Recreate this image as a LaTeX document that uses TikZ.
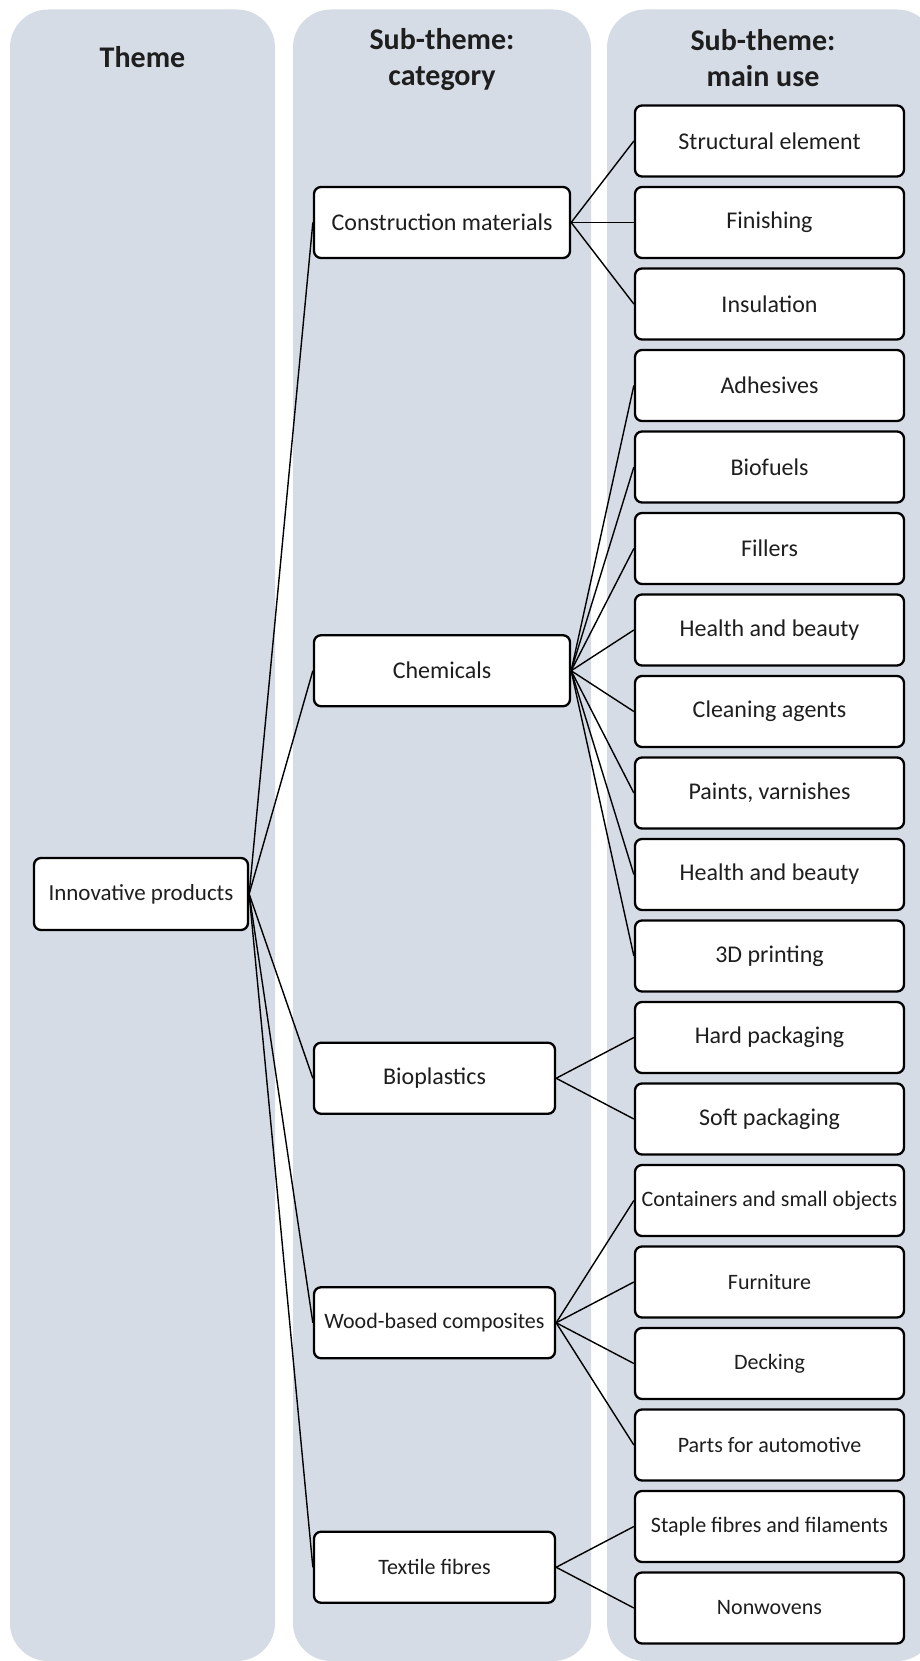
\documentclass[tikz,border=0pt]{standalone}
\usepackage{fontspec}
\setmainfont{Carlito}
\definecolor{panelc}{RGB}{214,220,229}
\definecolor{txt}{RGB}{30,30,30}
\begin{document}
\begin{tikzpicture}[x=1pt,y=-1pt,
  panelbox/.style={fill=panelc, draw=none, rounded corners=38pt},
  heading/.style={font=\bfseries\fontsize{30}{36}\selectfont, align=center, text=txt, inner sep=0pt},
  item/.style={draw=black, line width=2.3pt, fill=white, rounded corners=7pt,
    minimum height=71pt, inner sep=0pt, align=center, text=txt,
    font=\fontsize{24}{28}\selectfont},
  small/.style={font=\fontsize{22}{26}\selectfont},
  usebox/.style={item, minimum width=269pt},
  catwide/.style={item, minimum width=256pt},
  catnarrow/.style={item, minimum width=241pt},
  conn/.style={draw=black, line width=1.4pt}
]
\useasboundingbox (0,0) rectangle (920,1661);
\clip (0,0) rectangle (920,1661);
% panels
\path[panelbox] (10,9.5) rectangle (275,1661);
\path[panelbox] (293,9.5) rectangle (591,1661);
\path[panelbox] (607,9.5) rectangle (935,1661);
% headings
\node[heading] (h1) at (142.5,57) {Theme};
\node[heading] (h2) at (442,60) {Sub-theme:\\category};
\node[heading] (h3) at (763,58) {Sub-theme:\\main use};
% theme
\node[item, minimum width=214pt, minimum height=72pt, font=\fontsize{23}{27}\selectfont] (innov) at (141,894) {Innovative products};
% categories
\node[catwide] (constr) at (442,222.5) {Construction materials};
\node[catwide] (chem) at (442,670.75) {Chemicals};
\node[catnarrow] (biop) at (434.5,1078.25) {Bioplastics};
\node[catnarrow, small] (wood) at (434.5,1322.75) {Wood-based composites};
\node[catnarrow, small] (textile) at (434.5,1567.25) {Textile fibres};
% main uses
\node[usebox] (m1) at (769.5,141) {Structural element};
\node[usebox] (m2) at (769.5,222.5) {Finishing};
\node[usebox] (m3) at (769.5,304) {Insulation};
\node[usebox] (m4) at (769.5,385.5) {Adhesives};
\node[usebox] (m5) at (769.5,467) {Biofuels};
\node[usebox] (m6) at (769.5,548.5) {Fillers};
\node[usebox] (m7) at (769.5,630) {Health and beauty};
\node[usebox] (m8) at (769.5,711.5) {Cleaning agents};
\node[usebox] (m9) at (769.5,793) {Paints, varnishes};
\node[usebox] (m10) at (769.5,874.5) {Health and beauty};
\node[usebox] (m11) at (769.5,956) {3D printing};
\node[usebox] (m12) at (769.5,1037.5) {Hard packaging};
\node[usebox] (m13) at (769.5,1119) {Soft packaging};
\node[usebox, small] (m14) at (769.5,1200.5) {Containers and small objects};
\node[usebox, small] (m15) at (769.5,1282) {Furniture};
\node[usebox, small] (m16) at (769.5,1363.5) {Decking};
\node[usebox, small] (m17) at (769.5,1445) {Parts for automotive};
\node[usebox, small] (m18) at (769.5,1526.5) {Staple fibres and filaments};
\node[usebox, small] (m19) at (769.5,1608) {Nonwovens};
% connectors
\begin{scope}[on background layer/.style={}]
\foreach \c in {constr,chem,biop,wood,textile} \draw[conn] (innov.east) -- (\c.west);
\foreach \m in {m1,m2,m3} \draw[conn] (constr.east) -- (\m.west);
\foreach \m in {m4,m5,m6,m7,m8,m9,m10,m11} \draw[conn] (chem.east) -- (\m.west);
\foreach \m in {m12,m13} \draw[conn] (biop.east) -- (\m.west);
\foreach \m in {m14,m15,m16,m17} \draw[conn] (wood.east) -- (\m.west);
\foreach \m in {m18,m19} \draw[conn] (textile.east) -- (\m.west);
\end{scope}
\end{tikzpicture}
\end{document}
